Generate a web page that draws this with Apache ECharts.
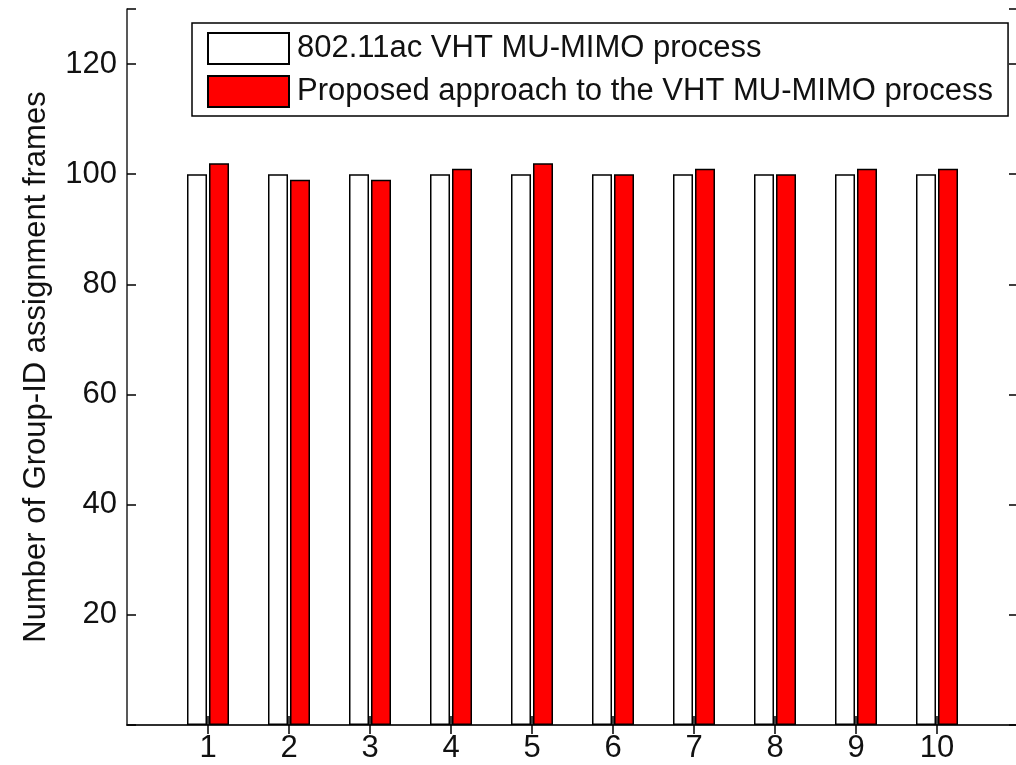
<!DOCTYPE html>
<html>
<head>
<meta charset="utf-8">
<script src="https://cdn.jsdelivr.net/npm/echarts@6/dist/echarts.min.js"></script>
<style>html,body{margin:0;padding:0;background:#fff;}#chart{width:1016px;height:765px;}</style>
</head>
<body>
<div id="chart"></div>
<script>
const categories = ['1', '2', '3', '4', '5', '6', '7', '8', '9', '10'];
const standardValues = [100, 100, 100, 100, 100, 100, 100, 100, 100, 100];
const proposedValues = [102, 99, 99, 101, 102, 100, 101, 100, 101, 101];
const seriesNames = ['802.11ac VHT MU-MIMO process', 'Proposed approach to the VHT MU-MIMO process'];
const yTitle = 'Number of Group-ID assignment frames';

// pad with empty slots so the axis spans 0..11
const axisCats = [''].concat(categories, ['']);
const pad = arr => ['-'].concat(arr, ['-']);
const tickIdx = categories.map((c, i) => i + 1);

const FONT = 'Liberation Sans';
const FS = 31;
const TXT = '#111';
const LINE = { lineStyle: { color: '#222', width: 1.5 } };

const chart = echarts.init(document.getElementById('chart'), null, { renderer: 'canvas' });
chart.setOption({
  animation: false,
  backgroundColor: '#fff',
  textStyle: { fontFamily: FONT },
  grid: { left: 127, top: 9, right: -2, bottom: 40, containLabel: false, outerBoundsMode: 'none' },
  legend: {
    orient: 'vertical',
    left: 192, top: 23,
    icon: 'rect',
    itemWidth: 81, itemHeight: 31, itemGap: 10,
    padding: [9, 15, 8, 15],
    borderColor: '#000', borderWidth: 1.5, backgroundColor: '#fff',
    textStyle: { fontFamily: FONT, fontSize: FS, color: TXT, padding: [0, 0, 0, 3] },
    data: seriesNames
  },
  xAxis: [
    {
      type: 'category', position: 'bottom', data: axisCats, boundaryGap: false,
      axisLine: LINE,
      axisTick: { show: true, inside: true, length: 9, customValues: tickIdx, lineStyle: { color: '#000', width: 1.5 } },
      axisLabel: { interval: 0, fontFamily: FONT, fontSize: FS, color: TXT, margin: 8 },
      splitLine: { show: false }
    },
    {
      type: 'category', position: 'top', data: axisCats, boundaryGap: false,
      axisLine: LINE,
      axisTick: { show: true, inside: true, length: 9, customValues: tickIdx, lineStyle: { color: '#000', width: 1.5 } },
      axisLabel: { show: false },
      splitLine: { show: false }
    }
  ],
  yAxis: [
    {
      type: 'value', position: 'left', min: 0, max: 130, interval: 20,
      name: yTitle, nameLocation: 'middle', nameRotate: 90, nameGap: 75,
      nameTextStyle: { fontFamily: FONT, fontSize: FS, color: TXT },
      axisLine: { show: true, lineStyle: { color: '#222', width: 1.5 } },
      axisTick: { show: true, inside: true, length: 9, lineStyle: { color: '#000', width: 1.5 } },
      axisLabel: { fontFamily: FONT, fontSize: FS, color: TXT, margin: 10,
        formatter: v => (v === 0 || v > 120) ? '' : String(v) },
      splitLine: { show: false }
    },
    {
      type: 'value', position: 'right', min: 0, max: 130, interval: 20,
      axisLine: { show: true, lineStyle: { color: '#222', width: 1.5 } },
      axisTick: { show: true, inside: true, length: 9, lineStyle: { color: '#000', width: 1.5 } },
      axisLabel: { show: false },
      splitLine: { show: false }
    }
  ],
  series: [
    {
      name: seriesNames[0], type: 'bar', xAxisIndex: 0, yAxisIndex: 0,
      data: pad(standardValues), barWidth: 20, barGap: '10%',
      itemStyle: { color: '#ffffff', borderColor: '#000', borderWidth: 1.5 }
    },
    {
      name: seriesNames[1], type: 'bar', xAxisIndex: 0, yAxisIndex: 0,
      data: pad(proposedValues), barWidth: 20, barGap: '10%',
      itemStyle: { color: '#ff0000', borderColor: '#000', borderWidth: 1.5 }
    }
  ]
});
</script>
</body>
</html>
